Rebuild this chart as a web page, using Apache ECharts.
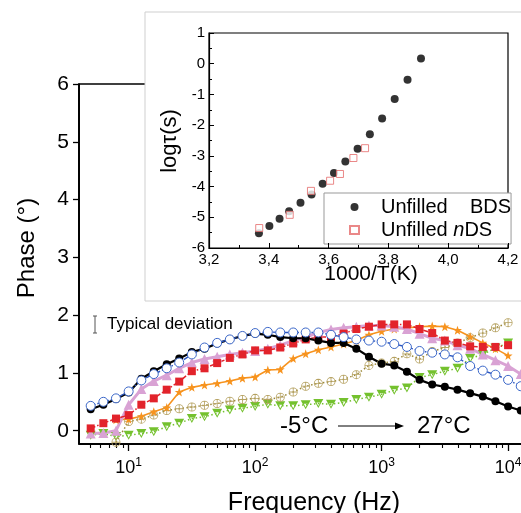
<!DOCTYPE html>
<html>
<head>
<meta charset="utf-8">
<script src="https://cdn.jsdelivr.net/npm/echarts@6/dist/echarts.min.js"></script>
<style>
  html, body { margin: 0; padding: 0; background: #fff; }
  #chart { width: 521px; height: 513px; }
</style>
</head>
<body>
<div id="chart"></div>
<script>
// frequencies (Hz), 10 per decade
const freqs = [5.01, 6.31, 7.94, 10, 12.6, 15.8, 20, 25.1, 31.6, 39.8, 50.1, 63.1, 79.4,
  100, 126, 158, 200, 251, 316, 398, 501, 631, 794, 1000, 1259, 1585, 1995, 2512, 3162,
  3981, 5012, 6310, 7943, 10000, 12589];

// phase (deg), -5 C ... 27 C
const phaseBlack = [0.37, 0.45, 0.55, 0.66, 0.90, 1.03, 1.15, 1.25, 1.36, 1.42, 1.51, 1.58, 1.64, 1.68,
  1.66, 1.62, 1.60, 1.60, 1.56, 1.52, 1.52, 1.42, 1.28, 1.16, 1.13, 1.02, 0.88, 0.80, 0.76, 0.71,
  0.65, 0.59, 0.51, 0.42, 0.35];
const phaseBlue = [0.43, 0.50, 0.56, 0.68, 0.87, 0.98, 1.08, 1.18, 1.32, 1.44, 1.52, 1.58, 1.64, 1.69,
  1.71, 1.70, 1.70, 1.70, 1.70, 1.66, 1.62, 1.58, 1.56, 1.54, 1.50, 1.45, 1.38, 1.35, 1.32, 1.27,
  1.12, 1.04, 0.97, 0.88, 0.77];
const phaseRed = [0.04, 0.13, 0.21, 0.27, 0.45, 0.56, 0.71, 0.85, 1.03, 1.08, 1.17, 1.26, 1.32, 1.39,
  1.39, 1.44, 1.51, 1.58, 1.62, 1.62, 1.68, 1.76, 1.80, 1.84, 1.84, 1.84, 1.76, 1.69, 1.56, 1.52,
  1.46, 1.45, 1.45, 1.48, null];
const phasePink = [-0.05, -0.04, 0.0, 0.45, 0.72, 0.86, 0.96, 1.08, 1.18, 1.24, 1.28, 1.32, 1.35, 1.38,
  1.42, 1.48, 1.56, 1.62, 1.70, 1.75, 1.78, 1.80, 1.82, 1.82, 1.80, 1.76, 1.68, 1.60, 1.56, 1.48,
  1.42, 1.32, 1.22, 1.12, 0.98];
const phaseOrange = [null, null, 0.19, 0.20, 0.25, 0.33, 0.40, 0.67, 0.75, 0.79, 0.82, 0.86, 0.91, 0.93,
  1.05, 1.06, 1.25, 1.33, 1.40, 1.45, 1.50, 1.56, 1.66, 1.72, 1.76, 1.78, 1.80, 1.81, 1.80, 1.74,
  1.63, 1.52, 1.42, 1.30, null];
const phaseOlive = [null, null, -0.2, 0.16, 0.20, 0.27, 0.35, 0.38, 0.41, 0.44, 0.47, 0.51, 0.54, 0.56,
  0.54, 0.58, 0.67, 0.77, 0.82, 0.85, 0.89, 0.97, 1.13, 1.17, 1.20, 1.33, 1.24, 1.37, 1.44, 1.52,
  1.61, 1.69, 1.78, 1.87, null];
const phaseGreen = [-0.08, -0.05, -0.10, -0.08, -0.05, -0.02, 0.07, 0.13, 0.21, 0.24, 0.30, 0.36, 0.39, 0.42,
  0.46, 0.43, 0.43, 0.45, 0.47, 0.46, 0.49, 0.54, 0.58, 0.63, 0.70, 0.74, 0.92, 0.97, 1.03, 1.08,
  1.25, 1.32, 1.43, 1.52, null];

// inset: log tau vs 1000/T
const bdsX = [3.367, 3.402, 3.436, 3.468, 3.506, 3.543, 3.580, 3.618, 3.656, 3.697, 3.738, 3.779, 3.821, 3.864, 3.909];
const bdsY = [-5.52, -5.28, -5.05, -4.80, -4.53, -4.26, -3.91, -3.56, -3.18, -2.77, -2.30, -1.78, -1.15, -0.52, 0.17];
const ndsX = [3.368, 3.470, 3.541, 3.605, 3.638, 3.683, 3.722];
const ndsY = [-5.35, -4.92, -4.14, -3.81, -3.59, -3.07, -2.75];

const majorTicks = [10, 100, 1000, 10000];
const minorTicks = [5, 6, 7, 8, 9, 20, 30, 40, 50, 60, 70, 80, 90, 200, 300, 400, 500, 600, 700, 800, 900,
  2000, 3000, 4000, 5000, 6000, 7000, 8000, 9000];
const phaseTicks = [0, 1, 2, 3, 4, 5, 6];
const insetMinorX = [3.3, 3.5, 3.7, 3.9, 4.1];
const insetMinorY = [0.5, -0.5, -1.5, -2.5, -3.5, -4.5, -5.5];

const font = '"Liberation Sans", Arial, Helvetica, sans-serif';

function pairs(vals) {
  return freqs.map((f, i) => [f, vals[i]]).filter(p => p[1] !== null);
}

const greenTri = 'path://M0,0L10,0L5,9Z M1.8,1L5,7L8.2,1Z M0,0L10,0L8.06,3.5L1.94,3.5Z';
const crossCircle = 'path://M0,-5A5,5 0 1,1 0,5A5,5 0 1,1 0,-5Z M0,-4.1A4.1,4.1 0 1,0 0,4.1A4.1,4.1 0 1,0 0,-4.1Z M-4.2,-0.45H4.2V0.45H-4.2Z M-0.45,-4.2H0.45V4.2H-0.45Z';
const star = 'path://M0,-5L1.2,-1.6L4.8,-1.6L1.9,0.6L2.9,4L0,2L-2.9,4L-1.9,0.6L-4.8,-1.6L-1.2,-1.6Z';

// plot frame runs a few px past the right edge, as in the source image
const logX = { type: 'log', logBase: 10, min: 4.05, max: 13360, gridIndex: 0, splitLine: { show: false } };
const insetX = { type: 'value', gridIndex: 1, min: 3.2, max: 4.2, z: 5, splitLine: { show: false } };
const insetY = { type: 'value', gridIndex: 1, min: -6, max: 1, z: 5, splitLine: { show: false } };

const chart = echarts.init(document.getElementById('chart'));
chart.setOption({
  animation: false,
  backgroundColor: '#fff',
  textStyle: { fontFamily: font },
  grid: [
    { left: 79, right: -3, top: 84, bottom: 69, outerBoundsMode: 'none', containLabel: false,
      show: true, borderColor: '#000', borderWidth: 1.5, z: -3 },
    { left: 209, right: 13, top: 33, bottom: 265, outerBoundsMode: 'none', containLabel: false,
      show: true, borderColor: '#000', borderWidth: 1.2, z: 1 }
  ],
  xAxis: [
    Object.assign({}, logX, {
      position: 'bottom',
      axisLine: { show: true, onZero: false, lineStyle: { color: '#000', width: 1.5 } },
      axisTick: { length: 7, customValues: majorTicks, lineStyle: { color: '#000', width: 1.3 } },
      axisLabel: {
        customValues: majorTicks, margin: 13, color: '#000',
        formatter: v => '{b|10}{s|' + Math.round(Math.log10(v)) + '}',
        rich: { b: { fontSize: 18, fontFamily: font, color: '#000' },
                s: { fontSize: 12, fontFamily: font, color: '#000', padding: [0, 0, 10, 0] } }
      }
    }),
    Object.assign({}, logX, {
      position: 'bottom',
      axisLine: { show: false, onZero: false },
      axisTick: { length: 4, customValues: minorTicks, lineStyle: { color: '#000', width: 1.1 } },
      axisLabel: { show: false }
    }),
    Object.assign({}, insetX, {
      interval: 0.2, position: 'bottom',
      axisLine: { show: true, onZero: false, lineStyle: { color: '#000', width: 1.2 } },
      axisTick: { inside: true, length: 5, lineStyle: { color: '#000' } },
      axisLabel: { margin: 4, fontSize: 15, color: '#000', formatter: v => v.toFixed(1).replace('.', ',') }
    }),
    Object.assign({}, insetX, {
      position: 'bottom',
      axisLine: { show: false, onZero: false },
      axisTick: { inside: true, length: 3, customValues: insetMinorX, lineStyle: { color: '#000' } },
      axisLabel: { show: false }
    })
  ],
  yAxis: [
    {
      type: 'value', gridIndex: 0, min: -0.23, max: 6,
      axisLine: { show: true, onZero: false, lineStyle: { color: '#000', width: 1.5 } },
      axisTick: { show: true, length: 6, customValues: phaseTicks, lineStyle: { color: '#000', width: 1.3 } },
      axisLabel: { customValues: phaseTicks, margin: 10, fontSize: 21, color: '#000' },
      splitLine: { show: false }
    },
    Object.assign({}, insetY, {
      interval: 1, position: 'left',
      axisLine: { show: true, onZero: false, lineStyle: { color: '#000', width: 1.2 } },
      axisTick: { inside: true, length: 5, lineStyle: { color: '#000' } },
      axisLabel: { margin: 4, fontSize: 15, color: '#000' }
    }),
    Object.assign({}, insetY, {
      position: 'left',
      axisLine: { show: false, onZero: false },
      axisTick: { show: true, inside: true, length: 3, customValues: insetMinorY, lineStyle: { color: '#000' } },
      axisLabel: { show: false }
    })
  ],
  legend: {
    data: [{ name: 'BDS', icon: 'circle' }, { name: 'nDS', icon: 'rect' }],
    left: 324, top: 193, orient: 'vertical',
    itemWidth: 9, itemHeight: 8, itemGap: 3,
    padding: [4, 0, 4, 25],
    borderColor: '#999', borderWidth: 1, backgroundColor: '#fff',
    textStyle: { fontSize: 20, color: '#000', fontFamily: font, padding: [0, 0, 0, 17],
      rich: { i: { fontSize: 20, fontStyle: 'italic', color: '#000', fontFamily: font } } },
    formatter: name => name === 'BDS' ? 'Unfilled    BDS' : 'Unfilled {i|n}DS'
  },
  graphic: [
    { type: 'rect', z: -1, shape: { x: 145, y: 12, width: 400, height: 289 },
      style: { fill: '#fff', stroke: '#cfcfcf', lineWidth: 1 } },
    // frame of the main plot (left and bottom edges)
    { type: 'line', shape: { x1: 79, y1: 84, x2: 79, y2: 444 }, style: { stroke: '#000', lineWidth: 1.5 } },
    { type: 'line', shape: { x1: 79, y1: 444, x2: 521, y2: 444 }, style: { stroke: '#000', lineWidth: 1.5 } },
    { type: 'text', x: 27, y: 248, rotation: Math.PI / 2,
      style: { text: 'Phase (°)', fontSize: 24, fontFamily: font, fill: '#000', align: 'center', verticalAlign: 'middle' } },
    { type: 'text', x: 314, y: 503,
      style: { text: 'Frequency (Hz)', fontSize: 25, fontFamily: font, fill: '#000', align: 'center', verticalAlign: 'middle' } },
    { type: 'text', x: 170, y: 141, rotation: Math.PI / 2,
      style: { text: 'logτ(s)', fontSize: 22, fontFamily: font, fill: '#000', align: 'center', verticalAlign: 'middle' } },
    { type: 'text', x: 371, y: 274,
      style: { text: '1000/T(K)', fontSize: 21, fontFamily: font, fill: '#000', align: 'center', verticalAlign: 'middle' } },
    { type: 'line', shape: { x1: 95, y1: 316, x2: 95, y2: 333 }, style: { stroke: '#555', lineWidth: 1 } },
    { type: 'line', shape: { x1: 93, y1: 316, x2: 97, y2: 316 }, style: { stroke: '#555', lineWidth: 1 } },
    { type: 'line', shape: { x1: 93, y1: 333, x2: 97, y2: 333 }, style: { stroke: '#555', lineWidth: 1 } },
    { type: 'text', x: 107, y: 324,
      style: { text: 'Typical deviation', fontSize: 17, fontFamily: font, fill: '#000', verticalAlign: 'middle' } },
    { type: 'text', x: 280, y: 426,
      style: { text: '-5°C', fontSize: 24, fontFamily: font, fill: '#000', verticalAlign: 'middle' } },
    { type: 'line', shape: { x1: 338, y1: 426, x2: 396, y2: 426 }, style: { stroke: '#000', lineWidth: 1 } },
    { type: 'polygon', shape: { points: [[404, 426], [395, 422.5], [395, 429.5]] }, style: { fill: '#000' } },
    { type: 'text', x: 417, y: 426,
      style: { text: '27°C', fontSize: 24, fontFamily: font, fill: '#000', verticalAlign: 'middle' } }
  ],
  series: [
    { type: 'line', name: '27', data: pairs(phaseGreen), symbol: greenTri, symbolSize: [10, 9],
      itemStyle: { color: '#74c12e' }, lineStyle: { color: '#74c12e', width: 1.5, type: [1.5, 2.5] } },
    { type: 'line', name: 'olive', data: pairs(phaseOlive), symbol: crossCircle, symbolSize: 9,
      itemStyle: { color: '#b5a160' }, lineStyle: { color: '#9a8736', width: 1.5, type: [1.5, 2.5] } },
    { type: 'line', name: 'orange', data: pairs(phaseOrange), symbol: star, symbolSize: 9,
      itemStyle: { color: '#f7931e' }, lineStyle: { color: '#f7931e', width: 1.6 } },
    { type: 'line', name: 'pink', data: pairs(phasePink), symbol: 'triangle', symbolSize: 10,
      itemStyle: { color: '#d9a2d4' }, lineStyle: { color: '#d9a2d4', width: 3 } },
    { type: 'line', name: 'red', data: pairs(phaseRed), symbol: 'rect', symbolSize: 8,
      itemStyle: { color: '#e2232b' }, lineStyle: { color: '#e2232b', width: 1.5, type: [5, 2, 1.5, 2] } },
    { type: 'line', name: '-5', data: pairs(phaseBlack), symbol: 'circle', symbolSize: 8,
      itemStyle: { color: '#000' }, lineStyle: { color: '#000', width: 2.2 } },
    { type: 'line', name: 'blue', data: pairs(phaseBlue), symbol: 'circle', symbolSize: 9,
      itemStyle: { color: '#fff', borderColor: '#3b67c9', borderWidth: 1 },
      lineStyle: { color: '#2a55c0', width: 1.4, type: [5, 2, 1.5, 2] } },
    { type: 'scatter', name: 'BDS', xAxisIndex: 2, yAxisIndex: 1, z: 6,
      data: bdsX.map((x, i) => [x, bdsY[i]]), symbol: 'circle', symbolSize: 8, itemStyle: { color: '#000' } },
    { type: 'scatter', name: 'nDS', xAxisIndex: 2, yAxisIndex: 1, z: 6,
      data: ndsX.map((x, i) => [x, ndsY[i]]), symbol: 'rect', symbolSize: 7,
      itemStyle: { color: '#fff', borderColor: '#e56a6a', borderWidth: 1 } }
  ]
});
</script>
</body>
</html>
